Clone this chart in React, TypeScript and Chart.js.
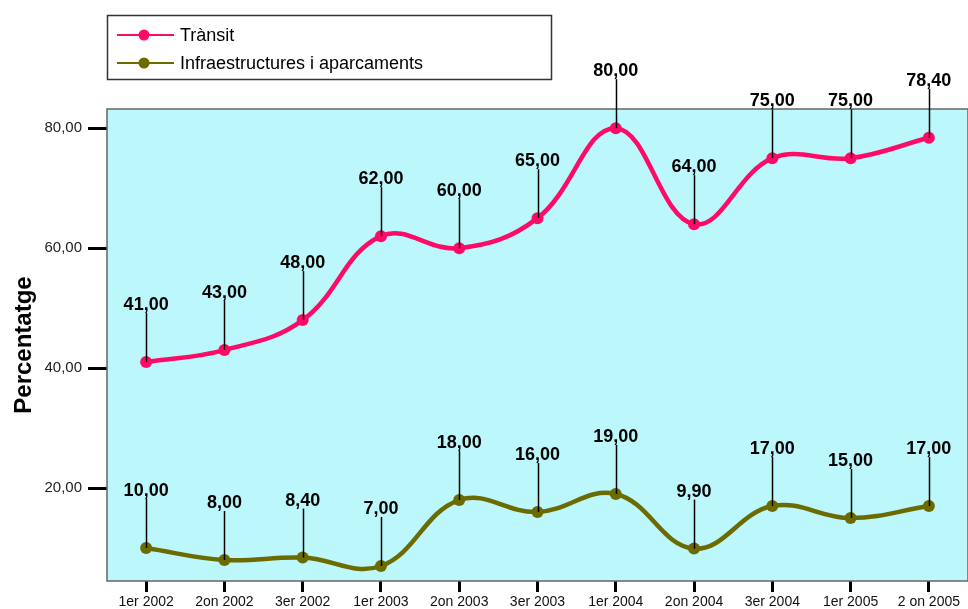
import React, { useEffect, useRef } from "react";
import { Chart, registerables } from "chart.js";

Chart.register(...registerables);

const categories = ["1er 2002", "2on 2002", "3er 2002", "1er 2003", "2on 2003", "3er 2003", "1er 2004", "2on 2004", "3er 2004", "1er 2005", "2 on 2005"];
const transit = [41, 43, 48, 62, 60, 65, 80, 64, 75, 75, 78.4];
const infra = [10, 8, 8.4, 7, 18, 16, 19, 9.9, 17, 15, 17];
const yTicks = [20, 40, 60, 80];
const seriesNames = ["Trànsit", "Infraestructures i aparcaments"];
const seriesColors = ["#FF0A66", "#6B6B00"];
const yTitle = "Percentatge";

const fmt = (v: number) => v.toFixed(2).replace(".", ",");

const decorPlugin = {
  id: "decor",
  beforeDatasetsDraw(chart: any) {
    const { ctx, chartArea: a } = chart;
    ctx.save();
    ctx.fillStyle = "#BBF7FB";
    ctx.fillRect(a.left, a.top, a.right - a.left, a.bottom - a.top);
    ctx.strokeStyle = "#666666";
    ctx.lineWidth = 1.5;
    ctx.strokeRect(a.left, a.top, a.right - a.left, a.bottom - a.top);
    ctx.restore();
  },
  afterDatasetsDraw(chart: any) {
    const { ctx } = chart;
    ctx.save();
    chart.data.datasets.forEach((ds: any, i: number) => {
      const meta = chart.getDatasetMeta(i);
      meta.data.forEach((pt: any, j: number) => {
        const x = Math.round(pt.x) + 0.5;
        const y = pt.y;
        ctx.strokeStyle = "#000";
        ctx.lineWidth = 1.5;
        ctx.beginPath();
        ctx.moveTo(x, y);
        ctx.lineTo(x, y - 49);
        ctx.stroke();
        ctx.fillStyle = "#000";
        ctx.font = "bold 18px Arial, 'Liberation Sans', sans-serif";
        ctx.textAlign = "center";
        ctx.textBaseline = "alphabetic";
        ctx.fillText(fmt(ds.data[j]), pt.x, y - 52);
      });
    });
    // y title
    const a = chart.chartArea;
    ctx.save();
    ctx.translate(31, (a.top + a.bottom) / 2);
    ctx.rotate(-Math.PI / 2);
    ctx.font = "bold 24px Arial, 'Liberation Sans', sans-serif";
    ctx.textAlign = "center";
    ctx.textBaseline = "alphabetic";
    ctx.fillStyle = "#000";
    ctx.fillText(yTitle, 0, 0);
    ctx.restore();
    // legend
    ctx.strokeStyle = "#333";
    ctx.lineWidth = 1.5;
    ctx.strokeRect(107.5, 15.5, 444, 64);
    const rows = [35, 63];
    rows.forEach((ry, k) => {
      ctx.strokeStyle = seriesColors[k];
      ctx.lineWidth = 2;
      ctx.beginPath();
      ctx.moveTo(117, ry);
      ctx.lineTo(174, ry);
      ctx.stroke();
      ctx.fillStyle = seriesColors[k];
      ctx.beginPath();
      ctx.arc(144, ry, 5.5, 0, Math.PI * 2);
      ctx.fill();
      ctx.fillStyle = "#000";
      ctx.font = "18px Arial, 'Liberation Sans', sans-serif";
      ctx.textAlign = "left";
      ctx.textBaseline = "middle";
      ctx.fillText(seriesNames[k], 180, ry + 1);
    });
    ctx.restore();
  },
};

export default function App() {
  const ref = useRef<HTMLCanvasElement>(null);
  useEffect(() => {
    if (!ref.current) return;
    const chart = new Chart(ref.current, {
      type: "line",
      data: {
        labels: categories,
        datasets: [transit, infra].map((d, i) => ({
          label: seriesNames[i],
          data: d,
          borderColor: seriesColors[i],
          backgroundColor: seriesColors[i],
          pointBackgroundColor: seriesColors[i],
          pointBorderWidth: 0,
          pointRadius: 6,
          borderWidth: 4.5,
          tension: 0.4,
          fill: false,
          clip: false,
        })),
      },
      options: {
        responsive: false,
        animation: false,
        devicePixelRatio: 1,
        layout: { autoPadding: false, padding: { top: 109, left: 0, right: 0, bottom: 0 } },
        plugins: { legend: { display: false }, tooltip: { enabled: false } },
        scales: {
          x: {
            offset: true,
            grid: { drawOnChartArea: false, drawTicks: true, tickLength: 11, tickWidth: 3, tickColor: "#000", offset: false },
            border: { display: false },
            ticks: { color: "#111", font: { family: "Arial, 'Liberation Sans', sans-serif", size: 14 }, padding: 2, maxRotation: 0, autoSkip: false },
            afterFit: (s: any) => { s.height = 28; s.paddingLeft = 0; s.paddingRight = 0; },
          },
          y: {
            min: 4.5,
            max: 83.2,
            afterBuildTicks: (s: any) => { s.ticks = yTicks.map((v) => ({ value: v })); },
            grid: { drawOnChartArea: false, drawTicks: true, tickLength: 19, tickWidth: 3, tickColor: "#000" },
            border: { display: false },
            ticks: { color: "#222", font: { family: "Arial, 'Liberation Sans', sans-serif", size: 15 }, padding: 6, callback: (v: any) => fmt(Number(v)) },
            afterFit: (s: any) => { s.width = 107; s.paddingTop = 0; s.paddingBottom = 0; },
          },
        },
      },
      plugins: [decorPlugin],
    });
    return () => chart.destroy();
  }, []);
  return (
    <div style={{ position: "fixed", left: 0, top: 0, width: 968, height: 609, background: "#fff" }}>
      <canvas ref={ref} width={968} height={609} />
    </div>
  );
}
